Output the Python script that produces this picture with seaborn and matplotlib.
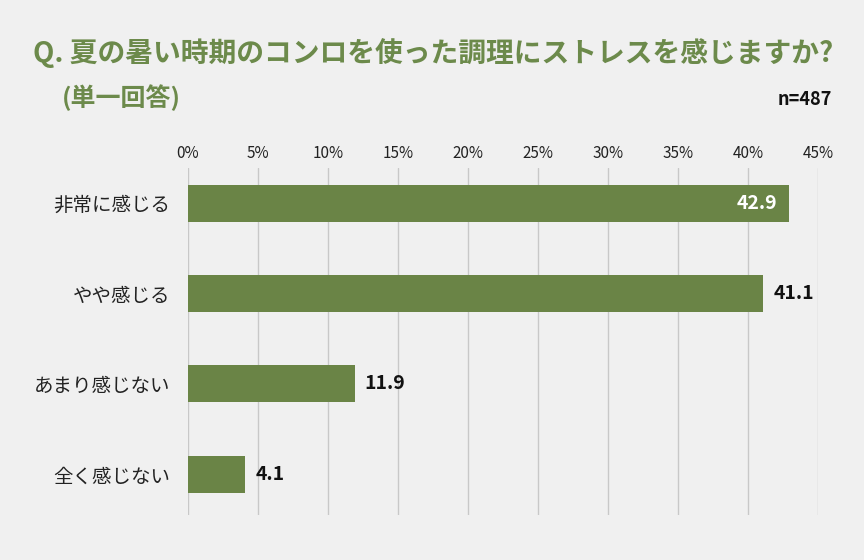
import seaborn as sns
import matplotlib.pyplot as plt
import pandas as pd

# data
categories = ["非常に感じる", "やや感じる", "あまり感じない", "全く感じない"]
values = [42.9, 41.1, 11.9, 4.1]
ticks = [0, 5, 10, 15, 20, 25, 30, 35, 40, 45]
tick_labels = [f"{t}%" for t in ticks]

bg = "#f0f0f0"
green = "#6a8446"
title_green = "#6c8a4b"

sns.set_theme(style="white")
plt.rcParams['font.family'] = ['Noto Sans CJK JP', 'DejaVu Sans']

df = pd.DataFrame({"cat": categories, "val": values})

fig = plt.figure(figsize=(8.64, 5.6), dpi=100, facecolor=bg)
ax = fig.add_axes([0.2176, 0.0804, 0.7292, 0.6196], facecolor=bg)

sns.barplot(data=df, x="val", y="cat", color=green, width=0.41,
            saturation=1, linewidth=0, ax=ax, zorder=3)

ax.set_xlim(0, 45)
ax.set_ylim(3.45, -0.39)
ax.set_xticks(ticks)
ax.set_xticklabels(tick_labels, fontsize=11, color="#222222")
ax.xaxis.tick_top()
ax.tick_params(axis="x", length=0, pad=4)
ax.tick_params(axis="y", length=0, pad=13, labelsize=14, labelcolor="#222222")
ax.grid(axis="x", color="#c8c8c8", linewidth=1, zorder=0)
for s in ax.spines.values():
    s.set_visible(False)
ax.set_xlabel("")
ax.set_ylabel("")

# value labels
for i, v in enumerate(values):
    if v > 42:
        ax.text(v - 0.8, i, f"{v}", ha="right", va="center", color="white",
                fontsize=14, fontweight="bold", zorder=4)
    else:
        ax.text(v + 0.7, i, f"{v}", ha="left", va="center", color="#111111",
                fontsize=14, fontweight="bold", zorder=4)

fig.text(0.038, 0.905, "Q. 夏の暑い時期のコンロを使った調理にストレスを感じますか?",
         fontsize=20, fontweight="bold", color=title_green, va="center", ha="left")
fig.text(0.072, 0.826, "(単一回答)", fontsize=18, fontweight="bold",
         color=title_green, va="center", ha="left")
fig.text(0.963, 0.822, "n=487", fontsize=13, fontweight="bold",
         color="#111111", va="center", ha="right")

fig.savefig("out.png", dpi=100, facecolor=bg)
